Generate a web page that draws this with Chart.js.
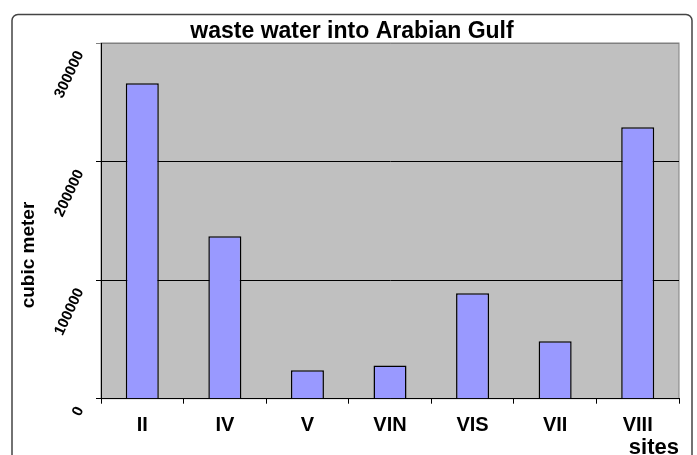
<!DOCTYPE html>
<html>
<head>
<meta charset="utf-8">
<script src="https://cdn.jsdelivr.net/npm/chart.js@4"></script>
<style>
  body { margin: 0; background: #fff; }
</style>
</head>
<body>
<canvas id="waste" width="697" height="455"></canvas>
<script>
const sites = ["II", "IV", "V", "VIN", "VIS", "VII", "VIII"];
const volumes = [266000, 137000, 24000, 28000, 89000, 48500, 229000];
const yMax = 300000;
const yStep = 100000;

// frame, plot background and the rotated y title
const excelLook = {
    id: "excelLook",
    beforeDraw(chart) {
        const ctx = chart.ctx;
        const a = chart.chartArea;
        ctx.save();
        ctx.strokeStyle = "#444";
        ctx.lineWidth = 1.5;
        ctx.beginPath();
        ctx.roundRect(12, 14.5, 680, 470, 6);
        ctx.stroke();
        ctx.fillStyle = "#c0c0c0";
        ctx.fillRect(a.left, a.top, a.right - a.left, a.bottom - a.top);
        ctx.strokeStyle = "#808080";
        ctx.lineWidth = 1;
        ctx.strokeRect(a.left, a.top, a.right - a.left, a.bottom - a.top);
        ctx.restore();
    },
    afterDraw(chart) {
        const ctx = chart.ctx;
        ctx.save();
        ctx.translate(29, 255);
        ctx.rotate(-Math.PI / 2);
        ctx.font = "bold 19px Arial";
        ctx.fillStyle = "#000";
        ctx.textAlign = "center";
        ctx.textBaseline = "middle";
        ctx.fillText("cubic meter", 0, 0);
        ctx.restore();
    }
};

new Chart(document.getElementById("waste"), {
    type: "bar",
    data: {
        labels: sites,
        datasets: [
            {
                data: volumes,
                backgroundColor: "#9999ff",
                borderColor: "#000",
                borderWidth: 1.5,
                barPercentage: 0.4,
                categoryPercentage: 1
            }
        ]
    },
    options: {
        responsive: false,
        animation: false,
        layout: { padding: { left: 12, right: 5, top: 0, bottom: 0 } },
        plugins: {
            legend: { display: false },
            tooltip: { enabled: false },
            title: {
                display: true,
                text: "waste water into Arabian Gulf",
                color: "#000",
                font: { family: "Arial", size: 23, weight: "bold", lineHeight: 1 },
                padding: { top: 20, bottom: 0 }
            }
        },
        scales: {
            x: {
                grid: { drawOnChartArea: false, offset: true, tickLength: 5, color: "#000" },
                border: { color: "#000" },
                ticks: { color: "#000", padding: 10, font: { family: "Arial", size: 20, weight: "bold" } },
                title: {
                    display: true,
                    text: "sites",
                    align: "end",
                    color: "#000",
                    font: { family: "Arial", size: 22, weight: "bold", lineHeight: 0.6 },
                    padding: 0
                },
                afterFit(s) { s.height = 56.3; }
            },
            y: {
                min: 0,
                max: yMax,
                grid: {
                    tickLength: 5,
                    color: (c) => (c.tick && c.tick.value === yMax ? "#808080" : "#000")
                },
                border: { color: "#000" },
                ticks: {
                    stepSize: yStep,
                    minRotation: 65,
                    maxRotation: 65,
                    padding: 16,
                    labelOffset: 9,
                    color: "#000",
                    font: { family: "Arial", size: 15, weight: "bold" },
                    callback: (v) => String(v)
                },
                afterFit(s) { s.width = 89; }
            },
            r: {
                position: "right",
                grid: { display: false },
                border: { display: false },
                ticks: { display: false },
                afterFit(s) { s.width = 13; }
            }
        }
    },
    plugins: [excelLook]
});
</script>
</body>
</html>
